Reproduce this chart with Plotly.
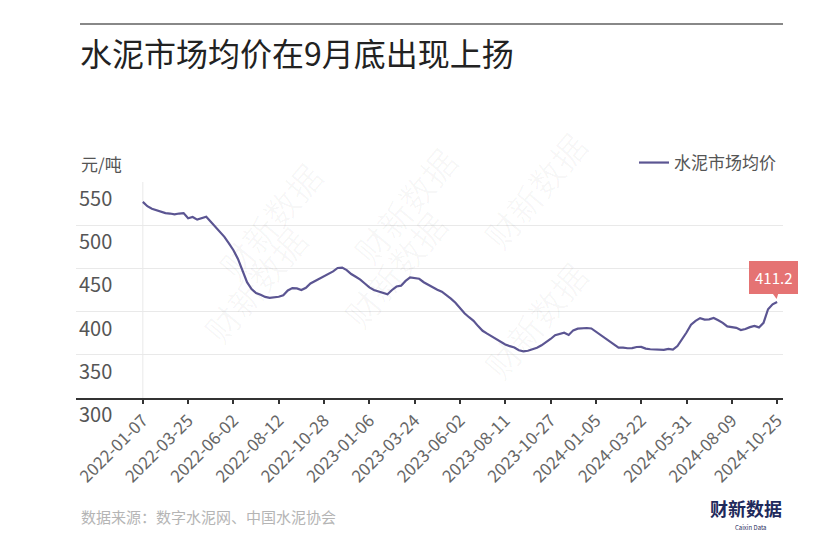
import plotly.graph_objects as go

# ---------------- data ----------------
series_name = "水泥市场均价"
tick_labels = ["2022-01-07", "2022-03-25", "2022-06-02", "2022-08-12", "2022-10-28",
               "2023-01-06", "2023-03-24", "2023-06-02", "2023-08-11", "2023-10-27",
               "2024-01-05", "2024-03-22", "2024-05-31", "2024-08-09", "2024-10-25"]
tick_step = 10
prices = [
    527, 522, 519, 517.5, 516, 514, 513.5, 512.5, 513.5, 514,
    508, 509.5, 506.5, 508, 509.7, 504, 498.5, 493, 486.5, 479,
    471, 461, 446.5, 434, 426, 421.5, 419.5, 417, 416, 416.8,
    417.2, 419, 424.5, 427.2, 426.8, 425, 427.5, 432.5, 435.5, 438.5,
    441, 443.5, 446.5, 450.5, 451, 448, 443.5, 440.3, 437, 432.5,
    428, 425, 423.6, 422, 420, 425, 429, 430, 435.5, 439.5,
    438.5, 438, 434, 431, 428.3, 425.3, 423, 419.5, 415, 410.3,
    404, 398, 393.5, 389.4, 383.2, 377.8, 374.5, 371.3, 367.8, 364.3,
    362, 360, 358.5, 355.3, 354, 354.7, 356.3, 358.2, 361, 364.3,
    368.3, 372.7, 374.4, 375.5, 373, 378.3, 380.2, 380.8, 381, 380.5,
    376.7, 373, 369.8, 366.2, 362.3, 358.4, 358.4, 357.6, 357.7, 359,
    359.2, 357.2, 356.4, 356.4, 356.2, 355.7, 356.9, 356, 360.2, 367.5,
    375.8, 384.8, 389.2, 392.4, 390.7, 391.1, 392.7, 390, 387, 382.8,
    382, 381.2, 378.7, 379.9, 382, 383.5, 381.7, 387, 402.7, 408.4,
    411.2,
]
y_ticks = [300, 350, 400, 450, 500, 550]
last_label = "411.2"

# ---------------- layout helpers ----------------
OFF = 8                      # page body margin
W, H = 840 - 2 * OFF, 559 - 2 * OFF
PLOT_L, PLOT_R, PLOT_T, PLOT_B = 76, 783, 182, 398   # in screenshot pixels
L = PLOT_L - OFF
R = W - (PLOT_R - OFF)
T = PLOT_T - OFF
B = H - (PLOT_B - OFF)
PW, PH = W - L - R, H - T - B
FONT = "Noto Sans CJK SC, Noto Sans, sans-serif"


def px_x(x):
    return (x - PLOT_L) / PW


def px_y(y):
    return (PLOT_B - y) / PH


idx = list(range(len(prices)))
tickvals = [i * tick_step for i in range(len(tick_labels))]

fig = go.Figure()
fig.add_trace(go.Scatter(
    x=idx, y=prices, mode="lines", name=series_name,
    line=dict(color="#5b5592", width=2.2),
    hoverinfo="skip",
))

annotations = []
# watermarks
for (wx, wy) in [(205, 150), (405, 135), (600, 120), (190, 355), (395, 340), (600, 320)]:
    annotations.append(dict(
        x=px_x(wx), y=px_y(wy), xref="paper", yref="paper", text="财新数据",
        showarrow=False, textangle=-50,
        font=dict(family=FONT, size=34, color="rgba(0,0,0,0.03)"),
    ))

annotations += [
    dict(x=px_x(79), y=px_y(163), xref="paper", yref="paper", text="元/吨",
         xanchor="left", yanchor="middle", showarrow=False,
         font=dict(family=FONT, size=17, color="#555")),
    dict(x=px_x(79), y=px_y(516), xref="paper", yref="paper",
         text="数据来源：数字水泥网、中国水泥协会",
         xanchor="left", yanchor="middle", showarrow=False,
         font=dict(family=FONT, size=15, color="#b5b5b5")),
    dict(x=px_x(784), y=px_y(508), xref="paper", yref="paper", text="<b>财新数据</b>",
         xanchor="right", yanchor="middle", showarrow=False,
         font=dict(family=FONT, size=18, color="#1f2a5c")),
    dict(x=px_x(750), y=px_y(527), xref="paper", yref="paper", text="Caixin Data",
         xanchor="center", yanchor="middle", showarrow=False,
         font=dict(family=FONT, size=6, color="#1f2a5c")),
    dict(x=idx[-1], y=prices[-1], xref="x", yref="y", text=last_label,
         showarrow=True, ax=-4, ay=-24, arrowhead=2, arrowsize=1, arrowwidth=2,
         arrowcolor="#e57373", standoff=3,
         bgcolor="#e57373", bordercolor="#e57373", borderpad=5,
         font=dict(family=FONT, size=15, color="white")),
]

fig.update_layout(
    width=W, height=H,
    margin=dict(l=L, r=R, t=T, b=B),
    paper_bgcolor="white", plot_bgcolor="white",
    font=dict(family=FONT, color="#555"),
    title=dict(text="水泥市场均价在9月底出现上扬", x=(80 - OFF) / W, xref="container",
               xanchor="left", y=1 - (55 - OFF) / H, yref="container", yanchor="middle",
               font=dict(family=FONT, size=32, color="#222")),
    showlegend=True,
    legend=dict(orientation="h", x=px_x(781), xanchor="right", y=px_y(163), yanchor="middle",
                font=dict(family=FONT, size=17, color="#555"),
                bgcolor="rgba(0,0,0,0)", itemwidth=30),
    xaxis=dict(
        range=[-14.75, 141.3],
        tickmode="array", tickvals=tickvals, ticktext=tick_labels,
        tickangle=-45, tickfont=dict(family=FONT, size=17, color="#666"),
        ticks="outside", ticklen=4, tickwidth=2, tickcolor="#333",
        showline=True, linecolor="#333", linewidth=2,
        showgrid=False, zeroline=False,
    ),
    yaxis=dict(
        range=[300, 550], tickmode="array", tickvals=y_ticks,
        ticklabelposition="inside", ticklabelshift=17, ticklabelstandoff=0,
        ticklabeloverflow="allow",
        tickfont=dict(family=FONT, size=20, color="#555"),
        showgrid=True, gridcolor="#e9e9e9", gridwidth=1,
        zeroline=False, showline=False, ticks="",
    ),
    annotations=annotations,
    shapes=[
        dict(type="line", xref="paper", yref="paper", x0=px_x(80), x1=px_x(783),
             y0=px_y(24), y1=px_y(24), line=dict(color="#888", width=2)),
        dict(type="line", xref="x", yref="y", x0=0, x1=0, y0=300, y1=550,
             line=dict(color="#e9e9e9", width=1), layer="below"),
    ],
)

fig.write_html("out.html")
